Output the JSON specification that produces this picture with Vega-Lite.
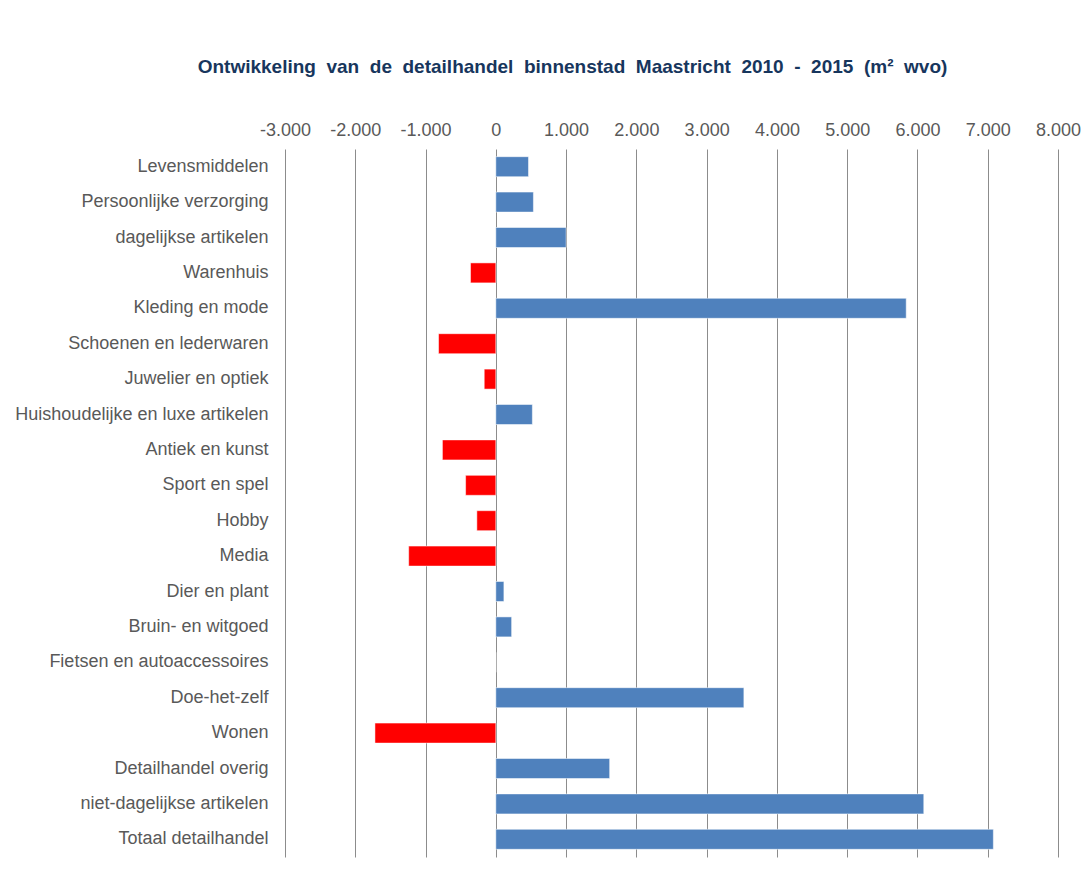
{
  "$schema": "https://vega.github.io/schema/vega-lite/v6.json",
  "autosize": {"type": "none"},
  "padding": {"left": 285, "top": 149, "right": 30, "bottom": 17},
  "width": 773,
  "height": 708,
  "background": "white",
  "title": {
    "text": "Ontwikkeling\u00a0 van\u00a0 de\u00a0 detailhandel\u00a0 binnenstad\u00a0 Maastricht\u00a0 2010\u00a0 -\u00a0 2015\u00a0 (m²\u00a0 wvo)",
    "font": "Liberation Sans",
    "fontSize": 19,
    "fontWeight": "bold",
    "color": "#17365D",
    "anchor": "middle",
    "dx": -99,
    "offset": 44
  },
  "data": {
    "values": [
      {"category": "Levensmiddelen", "value": 465},
      {"category": "Persoonlijke verzorging", "value": 535},
      {"category": "dagelijkse artikelen", "value": 1000},
      {"category": "Warenhuis", "value": -360},
      {"category": "Kleding en mode", "value": 5840},
      {"category": "Schoenen en lederwaren", "value": -815},
      {"category": "Juwelier en optiek", "value": -165},
      {"category": "Huishoudelijke en luxe artikelen", "value": 520},
      {"category": "Antiek en kunst", "value": -760},
      {"category": "Sport en spel", "value": -430},
      {"category": "Hobby", "value": -270},
      {"category": "Media", "value": -1240},
      {"category": "Dier en plant", "value": 115},
      {"category": "Bruin- en witgoed", "value": 225},
      {"category": "Fietsen en autoaccessoires", "value": 0},
      {"category": "Doe-het-zelf", "value": 3530},
      {"category": "Wonen", "value": -1720},
      {"category": "Detailhandel overig", "value": 1620},
      {"category": "niet-dagelijkse artikelen", "value": 6090},
      {"category": "Totaal detailhandel", "value": 7080}
    ]
  },
  "mark": {"type": "bar", "stroke": "#ffffff", "strokeOpacity": 0.5, "strokeWidth": 1},
  "encoding": {
    "y": {
      "field": "category",
      "type": "nominal",
      "sort": null,
      "scale": {"paddingInner": 0.435, "paddingOuter": 0.2175},
      "axis": {
        "title": null,
        "domain": false,
        "ticks": false,
        "tickSize": 0,
        "grid": false,
        "labelFont": "Liberation Sans",
        "labelFontSize": 18,
        "labelColor": "#595959",
        "labelPadding": 17,
        "labelLimit": 400
      }
    },
    "x": {
      "field": "value",
      "type": "quantitative",
      "scale": {"domain": [-3000, 8000], "nice": false, "zero": false},
      "axis": {
        "orient": "top",
        "title": null,
        "values": [-3000, -2000, -1000, 0, 1000, 2000, 3000, 4000, 5000, 6000, 7000, 8000],
        "labelExpr": "(datum.value < 0 ? '-' : '') + replace(format(abs(datum.value), ',d'), ',', '.')",
        "domain": false,
        "ticks": false,
        "tickSize": 0,
        "grid": true,
        "gridColor": "#8c8c8c",
        "gridWidth": 1,
        "labelFont": "Liberation Sans",
        "labelFontSize": 18,
        "labelColor": "#595959",
        "labelPadding": 14,
        "labelBaseline": "alphabetic",
        "labelFlush": false,
        "labelOverlap": false
      }
    },
    "color": {
      "condition": {"test": "datum.value < 0", "value": "#FF0000"},
      "value": "#4F81BD"
    }
  },
  "config": {"view": {"stroke": null}}
}
